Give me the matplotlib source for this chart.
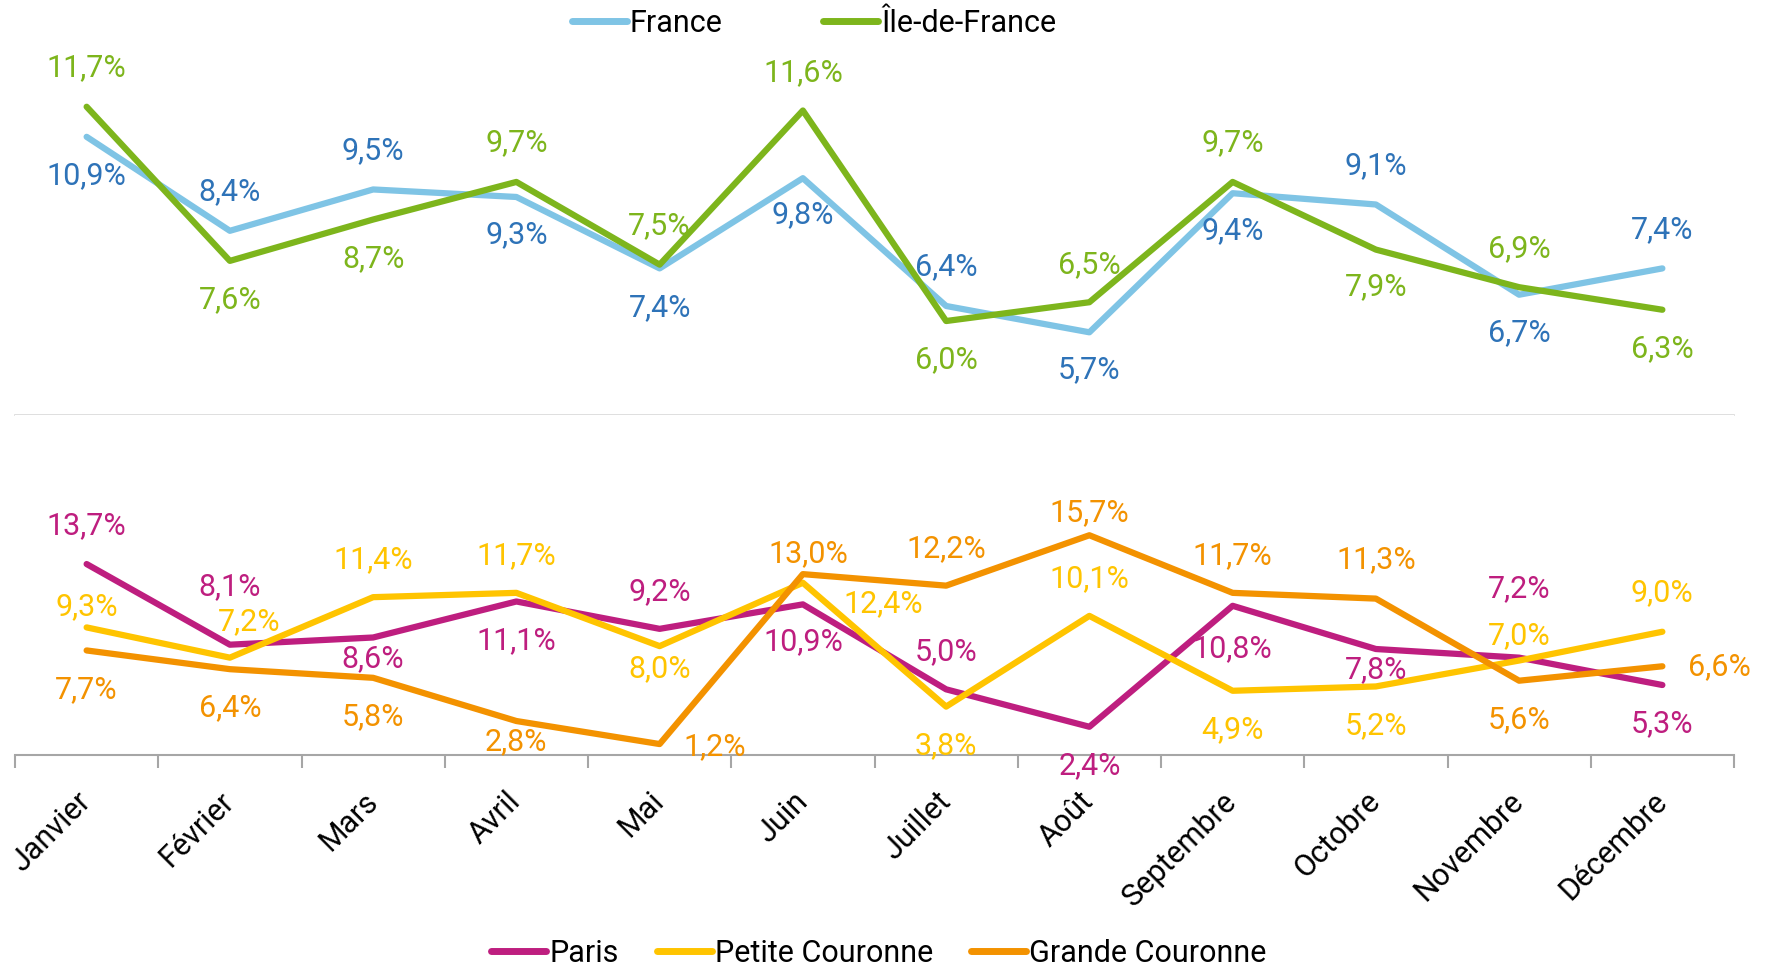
import matplotlib
matplotlib.use("Agg")
import matplotlib.pyplot as plt
from matplotlib.lines import Line2D

plt.rcParams['font.family'] = ['Roboto', 'DejaVu Sans']

mois = ["Janvier", "Février", "Mars", "Avril", "Mai", "Juin", "Juillet", "Août",
        "Septembre", "Octobre", "Novembre", "Décembre"]

france = [10.9, 8.4, 9.5, 9.3, 7.4, 9.8, 6.4, 5.7, 9.4, 9.1, 6.7, 7.4]
idf = [11.7, 7.6, 8.7, 9.7, 7.5, 11.6, 6.0, 6.5, 9.7, 7.9, 6.9, 6.3]

paris = [13.7, 8.1, 8.6, 11.1, 9.2, 10.9, 5.0, 2.4, 10.8, 7.8, 7.2, 5.3]
petite = [9.3, 7.2, 11.4, 11.7, 8.0, 12.4, 3.8, 10.1, 4.9, 5.2, 7.0, 9.0]
grande = [7.7, 6.4, 5.8, 2.8, 1.2, 13.0, 12.2, 15.7, 11.7, 11.3, 5.6, 6.6]

# décalage des étiquettes (points) : (dx, dy)
off_france = [(0, -28), (0, 28), (0, 28), (0, -27), (0, -28), (0, -26),
              (0, 28), (0, -27), (0, -27), (0, 28), (0, -27), (0, 28)]
off_idf = [(0, 28), (0, -28), (0, -28), (0, 28), (0, 28), (0, 27),
           (0, -28), (0, 27), (0, 28), (0, -27), (0, 28), (0, -28)]
off_paris = [(0, 28), (0, 42), (0, -15), (0, -28), (0, 27), (0, -27),
             (0, 27), (0, -28), (0, -31), (0, -15), (0, 50), (0, -28)]
off_petite = [(0, 15), (14, 26), (0, 27), (0, 27), (0, -16), (58, -15),
              (0, -28), (0, 27), (0, -28), (0, -28), (0, 18), (0, 28)]
off_grande = [(0, -28), (0, -28), (0, -28), (0, -15), (40, -2), (4, 15),
              (0, 27), (0, 16), (0, 27), (0, 28), (0, -28), (41, 0)]

c_france, c_france_txt = "#7FC4E5", "#2E73B8"
c_idf = "#7DB51C"
c_paris = "#BE1E7F"
c_petite = "#FFC400"
c_grande = "#F39200"

W, H = 1772, 967
fig = plt.figure(figsize=(W / 100, H / 100), dpi=100)
left, right = 15 / W, 1734 / W

ax1 = fig.add_axes([left, 1 - 415 / H, right - left, 415 / H])
ax2 = fig.add_axes([left, 1 - 755 / H, right - left, 340 / H])

x = list(range(len(mois)))
fs = 22


def serie(ax, vals, col, txtcol, offs):
    ax.plot(x, vals, color=col, lw=4.5, solid_joinstyle='round',
            solid_capstyle='round')
    for i, v in enumerate(vals):
        ax.annotate(f"{v:.1f}%".replace(".", ","), (i, v), xytext=offs[i],
                    textcoords="offset points", ha="center", va="center",
                    color=txtcol, fontsize=fs, annotation_clip=False)


serie(ax1, france, c_france, c_france_txt, off_france)
serie(ax1, idf, c_idf, c_idf, off_idf)
serie(ax2, paris, c_paris, c_paris, off_paris)
serie(ax2, petite, c_petite, c_petite, off_petite)
serie(ax2, grande, c_grande, c_grande, off_grande)

for ax in (ax1, ax2):
    ax.set_xlim(-0.5, len(mois) - 0.5)
    for s in ("top", "left", "right"):
        ax.spines[s].set_visible(False)
    ax.set_yticks([])

ax1.set_ylim(3.5, 14.54)
ax1.spines["bottom"].set_color("#D9D9D9")
ax1.spines["bottom"].set_linewidth(1.2)
ax1.set_xticks([])

ax2.set_ylim(0.44, 24.05)
ax2.spines["bottom"].set_color("#A6A6A6")
ax2.spines["bottom"].set_linewidth(1.5)
ax2.set_xticks([i - 0.5 for i in range(len(mois) + 1)])
ax2.set_xticklabels([])
ax2.tick_params(axis="x", which="major", length=9, width=1.5, color="#A6A6A6")
ax2.set_xticks(x, minor=True)
ax2.set_xticklabels(mois, minor=True, rotation=45, ha="right", va="center",
                    rotation_mode="anchor", fontsize=fs)
ax2.tick_params(axis="x", which="minor", length=0, pad=30)

h_top = [Line2D([], [], color=c_france, lw=5, solid_capstyle="round"),
         Line2D([], [], color=c_idf, lw=5, solid_capstyle="round")]
fig.legend(h_top, ["France", "Île-de-France"], loc="center",
           bbox_to_anchor=(814 / W, 1 - 23 / H), ncol=2, frameon=False,
           fontsize=fs, handlelength=1.8, handletextpad=0.1, columnspacing=3.3)

h_bot = [Line2D([], [], color=c_paris, lw=5, solid_capstyle="round"),
         Line2D([], [], color=c_petite, lw=5, solid_capstyle="round"),
         Line2D([], [], color=c_grande, lw=5, solid_capstyle="round")]
fig.legend(h_bot, ["Paris", "Petite Couronne", "Grande Couronne"], loc="center",
           bbox_to_anchor=(879 / W, 1 - 953 / H), ncol=3, frameon=False,
           fontsize=fs, handlelength=1.8, handletextpad=0.1, columnspacing=1.25)

fig.savefig("out.png", dpi=100)
